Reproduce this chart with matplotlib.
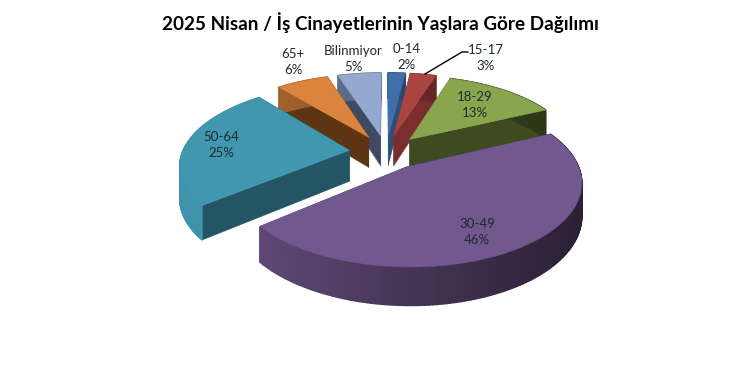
import numpy as np
import matplotlib
matplotlib.use("Agg")
import matplotlib.pyplot as plt
from matplotlib.colors import to_rgb

TITLE = "2025 Nisan / İş Cinayetlerinin Yaşlara Göre Dağılımı"
categories = ["0-14", "15-17", "18-29", "30-49", "50-64", "65+", "Bilinmiyor"]
values = [2, 3, 13, 46, 25, 6, 5]

top_colors = ["#3f6fa8", "#a94543", "#89a54e", "#71588f", "#4097af", "#db843d", "#93a9cf"]
wall_colors = ["#2c5079", "#7a2f2e", "#3e4a1f", "#3a2c4c", "#235564", "#5d3615", "#3e4a61"]
rim_colors = ["#34608f", "#8d3735", "#56682f", "#5e4775", "#3c8ca4", "#a8652e", "#6d7f9e"]
# label anchor in pixels
label_pos = [(407, 57), (486, 58), (475, 105), (477, 232), (221, 145), (293, 62), (353, 59)]

# pie geometry in pixels
CX, CY = 386, 152
RX, RY = 167, 78
PERSP = 0.165
EXPLODE = 0.22
DEPTH = 31
START = 0


def project(u, v, drop=0.0):
    s = 1.0 / (1.0 + PERSP * v)
    return CX + RX * u * s, CY - RY * v * s + drop * DEPTH * s


def shade(color, f):
    return tuple(min(1, c * f) for c in to_rgb(color))


plt.rcParams["font.family"] = ["Lato", "DejaVu Sans"]
fig = plt.figure(figsize=(7.56, 3.68), dpi=100)
ax = fig.add_axes([0, 0, 1, 1])
ax.set_xlim(0, 756)
ax.set_ylim(368, 0)
ax.axis("off")

fracs = np.array(values) / sum(values)
edges = START + 360 * np.concatenate([[0], np.cumsum(fracs)])
slices = []
for i in range(len(values)):
    a0, a1 = edges[i], edges[i + 1]
    mid = np.radians((a0 + a1) / 2)
    du, dv = EXPLODE * np.sin(mid), EXPLODE * np.cos(mid)
    th = np.radians(np.linspace(a0, a1, max(8, int(a1 - a0))))
    slices.append((dv, i, du, th))

# far slices first
for order, (dv, i, du, th) in enumerate(sorted(slices, key=lambda s: -s[0])):
    us = du + np.sin(th)
    vs = dv + np.cos(th)
    xt, yt = project(us, vs)
    xb, yb = project(us, vs, 1)
    ax_, ay_ = project(du, dv)
    bx_, by_ = project(du, dv, 1)
    z = 2 + order

    for k in (0, -1):
        ax.fill([ax_, xt[k], xb[k], bx_], [ay_, yt[k], yb[k], by_],
                color=wall_colors[i], lw=0.3, zorder=z)

    for k in range(len(th) - 1):
        f = 1.0 - 0.55 * (xt[k] - 262) / 320
        c = shade(rim_colors[i], np.clip(f, 0.45, 1.05))
        ax.fill([xt[k], xt[k + 1], xb[k + 1], xb[k]],
                [yt[k], yt[k + 1], yb[k + 1], yb[k]],
                color=c, lw=1, zorder=z)

    ax.fill(np.r_[ax_, xt], np.r_[ay_, yt], color=top_colors[i], lw=0.3, zorder=z)

for name, val, (lx, ly) in zip(categories, values, label_pos):
    ax.text(lx, ly, f"{name}\n{val}%", ha="center", va="center", fontsize=9.5,
            color="#1f2a30", linespacing=1.45, zorder=20)

ax.plot([425, 462, 468], [74, 52, 52], color="black", lw=1, zorder=20)

ax.text(380, 23, TITLE, ha="center", va="center", fontsize=13.6,
        fontweight="bold", color="black")

fig.savefig("out.png", dpi=100)
